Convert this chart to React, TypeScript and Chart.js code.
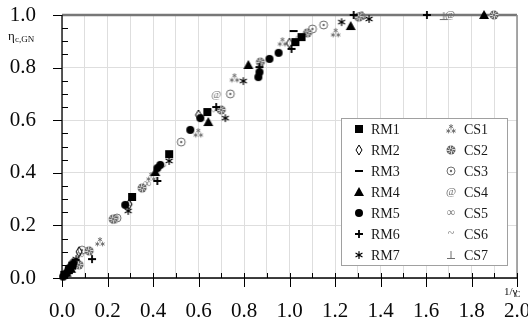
import React, { useEffect, useRef } from 'react';
import { Chart, registerables } from 'chart.js';

Chart.register(...registerables);

// ---------- data ----------
const X_TICK_LABELS = ['0.0', '0.2', '0.4', '0.6', '0.8', '1.0', '1.2', '1.4', '1.6', '1.8', '2.0'];
const Y_TICK_LABELS = ['0.0', '0.2', '0.4', '0.6', '0.8', '1.0'];
const SERIES_NAMES = ['RM1', 'RM2', 'RM3', 'RM4', 'RM5', 'RM6', 'RM7', 'CS1', 'CS2', 'CS3', 'CS4', 'CS5', 'CS6', 'CS7'];

const RM1 = [[0.01, 0.012], [0.03, 0.03], [0.045, 0.047], [0.308, 0.308], [0.471, 0.471], [0.639, 0.631], [1.026, 0.897], [1.053, 0.916]];
const RM2 = [[0.075, 0.1], [0.295, 0.28], [0.6, 0.62], [1.0, 0.893]];
const RM3 = [[0.06, 0.07], [1.018, 0.939]];
const RM4 = [[0.02, 0.02], [0.04, 0.035], [0.41, 0.403], [0.643, 0.593], [0.819, 0.81], [1.269, 0.958], [1.855, 1.0]];
const RM5 = [[0.005, 0.005], [0.015, 0.015], [0.025, 0.025], [0.035, 0.04], [0.05, 0.055], [0.278, 0.278], [0.419, 0.418], [0.432, 0.43], [0.564, 0.563], [0.608, 0.608], [0.863, 0.764], [0.868, 0.783], [0.912, 0.833], [0.952, 0.856]];
const RM6 = [[0.132, 0.072], [0.419, 0.369], [0.678, 0.65], [0.868, 0.802], [1.009, 0.871], [1.282, 1.0], [1.604, 1.0]];
const RM7 = [[0.062, 0.072], [0.291, 0.255], [0.471, 0.445], [0.718, 0.608], [0.797, 0.749], [1.229, 0.973], [1.35, 0.985]];
const CS1 = [[0.167, 0.137], [0.392, 0.384], [0.599, 0.551], [0.758, 0.76], [0.969, 0.897], [1.203, 0.932]];
const CS2 = [[0.075, 0.05], [0.119, 0.103], [0.225, 0.224], [0.352, 0.342], [0.7, 0.639], [0.872, 0.821], [1.079, 0.932], [1.304, 0.992], [1.899, 1.0]];
const CS3 = [[0.088, 0.106], [0.242, 0.228], [0.524, 0.517], [0.74, 0.7], [1.101, 0.947], [1.15, 0.962], [1.313, 0.996]];
const CS4 = [[0.05, 0.06], [0.23, 0.225], [0.678, 0.696], [1.705, 1.0]];
const CS5 = [[0.079, 0.087], [0.29, 0.281], [0.374, 0.357], [1.317, 0.989]];
const CS6 = [[0.05, 0.062], [0.445, 0.422], [0.66, 0.63], [1.04, 0.91]];
const CS7 = [[0.012, 0.015], [1.32, 1.0], [1.678, 0.996]];

const SERIES_DATA = [RM1, RM2, RM3, RM4, RM5, RM6, RM7, CS1, CS2, CS3, CS4, CS5, CS6, CS7];

// ---------- styles ----------
const BLACK = '#000000';
const GRAY = '#6e6e6e';
const SERIF = '"Liberation Serif", "DejaVu Serif", serif';

function glyph(draw: (g: CanvasRenderingContext2D) => void) {
  const s = 16;
  const c = document.createElement('canvas');
  c.width = s;
  c.height = s;
  const g = c.getContext('2d') as CanvasRenderingContext2D;
  g.translate(s / 2, s / 2);
  draw(g);
  return c;
}

function asterisk(g: CanvasRenderingContext2D, cx: number, cy: number, r: number, lw: number, color: string) {
  g.strokeStyle = color;
  g.lineWidth = lw;
  g.lineCap = 'round';
  g.beginPath();
  for (let k = 0; k < 6; k++) {
    const a = -Math.PI / 2 + (k * Math.PI) / 3;
    g.moveTo(cx, cy);
    g.lineTo(cx + r * Math.cos(a), cy + r * Math.sin(a));
  }
  g.stroke();
}

function textGlyph(ch: string, size: number, color: string, dy = 0) {
  return glyph((g) => {
    g.fillStyle = color;
    g.font = `${size}px ${SERIF}`;
    g.textAlign = 'center';
    g.textBaseline = 'middle';
    g.fillText(ch, 0, dy);
  });
}

function makeGlyphs() {
  return [
    glyph((g) => { g.fillStyle = BLACK; g.fillRect(-4, -4, 8, 8); }),
    glyph((g) => {
      g.strokeStyle = BLACK; g.lineWidth = 1;
      g.beginPath(); g.moveTo(0, -5); g.lineTo(3, 0); g.lineTo(0, 5); g.lineTo(-3, 0); g.closePath(); g.stroke();
    }),
    glyph((g) => { g.fillStyle = BLACK; g.fillRect(-4, -1, 8, 2); }),
    glyph((g) => {
      g.fillStyle = BLACK;
      g.beginPath(); g.moveTo(0, -5); g.lineTo(5, 4); g.lineTo(-5, 4); g.closePath(); g.fill();
    }),
    glyph((g) => { g.fillStyle = BLACK; g.beginPath(); g.arc(0, 0, 4, 0, Math.PI * 2); g.fill(); }),
    glyph((g) => {
      g.strokeStyle = BLACK; g.lineWidth = 1.8;
      g.beginPath(); g.moveTo(-4, 0); g.lineTo(4, 0); g.moveTo(0, -4); g.lineTo(0, 4); g.stroke();
    }),
    glyph((g) => asterisk(g, 0, 0, 3.5, 1.2, BLACK)),
    glyph((g) => {
      asterisk(g, 0, -2.5, 2, 0.9, GRAY);
      asterisk(g, -2.6, 2, 2, 0.9, GRAY);
      asterisk(g, 2.6, 2, 2, 0.9, GRAY);
    }),
    glyph((g) => {
      g.fillStyle = '#5e5e5e';
      g.beginPath(); g.arc(0, 0, 4.5, 0, Math.PI * 2); g.fill();
      g.strokeStyle = '#ffffff'; g.lineWidth = 0.8;
      g.beginPath();
      for (let k = 0; k < 8; k++) {
        const a = (k * Math.PI) / 4 + 0.3;
        g.moveTo(1.2 * Math.cos(a), 1.2 * Math.sin(a));
        g.lineTo(4.5 * Math.cos(a + 0.4), 4.5 * Math.sin(a + 0.4));
      }
      g.stroke();
    }),
    glyph((g) => {
      g.strokeStyle = GRAY; g.lineWidth = 1;
      g.beginPath(); g.arc(0, 0, 4, 0, Math.PI * 2); g.stroke();
      g.fillStyle = GRAY; g.beginPath(); g.arc(0, 0, 1.2, 0, Math.PI * 2); g.fill();
    }),
    textGlyph('@', 11, GRAY, 0),
    textGlyph('\u221E', 12, GRAY, 0),
    textGlyph('~', 12, GRAY, 0),
    glyph((g) => {
      g.strokeStyle = GRAY; g.lineWidth = 1;
      g.beginPath(); g.moveTo(0, -4); g.lineTo(0, 3.5); g.moveTo(-4, 3.5); g.lineTo(4, 3.5); g.stroke();
    }),
  ];
}

function line(ctx: CanvasRenderingContext2D, x1: number, y1: number, x2: number, y2: number) {
  ctx.beginPath();
  ctx.moveTo(x1, y1);
  ctx.lineTo(x2, y2);
  ctx.stroke();
}

export default function App() {
  const ref = useRef<HTMLCanvasElement | null>(null);

  useEffect(() => {
    const canvas = ref.current;
    if (!canvas) return;
    const glyphs = makeGlyphs();

    const datasets = SERIES_NAMES.map((name, i) => ({
      label: name,
      data: SERIES_DATA[i].map(([x, y]) => ({ x, y })),
      pointStyle: glyphs[i],
      pointRadius: 5,
      showLine: false,
      clip: false,
    }));

    const decor = {
      id: 'decor',
      beforeDatasetsDraw(chart: any) {
        const { ctx, chartArea: a, scales } = chart;
        const xs = scales.x;
        const ys = scales.y;
        ctx.save();
        ctx.strokeStyle = '#777777';
        ctx.lineWidth = 2.5;
        line(ctx, a.left, a.top, a.right, a.top);
        ctx.strokeStyle = '#8c8c8c';
        ctx.lineWidth = 1.5;
        line(ctx, a.right, a.top, a.right, a.bottom);
        ctx.strokeStyle = '#000000';
        ctx.lineWidth = 1.3;
        line(ctx, a.left, a.top, a.left, a.bottom);
        line(ctx, a.left, a.bottom, a.right, a.bottom);
        ctx.lineWidth = 1;
        for (let i = 0; i <= 20; i++) {
          const px = Math.round(xs.getPixelForValue(i / 10)) + 0.5;
          if (i % 2 === 0) line(ctx, px, a.bottom - 5, px, a.bottom + 9);
          else line(ctx, px, a.bottom - 5, px, a.bottom);
        }
        for (let i = 0; i <= 20; i++) {
          const py = Math.round(ys.getPixelForValue(i / 20)) + 0.5;
          if (i % 4 === 0) line(ctx, a.left - 9, py, a.left, py);
          else line(ctx, a.left, py, a.left + 6, py);
        }
        ctx.restore();
      },
      afterDraw(chart: any) {
        const { ctx } = chart;
        ctx.save();
        ctx.fillStyle = '#111111';
        ctx.textBaseline = 'alphabetic';
        ctx.textAlign = 'left';
        ctx.font = `13px ${SERIF}`;
        ctx.fillText('\u03B7', 8, 40);
        ctx.font = `9px ${SERIF}`;
        ctx.fillText('c,GN', 15, 42);
        ctx.font = `11px ${SERIF}`;
        ctx.fillText('1/\u03B3', 504, 295);
        ctx.font = `8px ${SERIF}`;
        ctx.fillText('C', 515, 297);

        const bx = 341, by = 118, bw = 166, bh = 147;
        ctx.fillStyle = '#ffffff';
        ctx.fillRect(bx, by, bw, bh);
        ctx.strokeStyle = '#a0a0a0';
        ctx.lineWidth = 1;
        ctx.strokeRect(bx + 0.5, by + 0.5, bw, bh);

        ctx.font = `14px ${SERIF}`;
        ctx.textBaseline = 'middle';
        ctx.fillStyle = '#1a1a1a';
        for (let i = 0; i < SERIES_NAMES.length; i++) {
          const col = i < 7 ? 0 : 1;
          const row = i % 7;
          const cy = 129 + row * 21;
          const mx = col === 0 ? 359 : 451;
          const tx = col === 0 ? 371 : 464;
          const gl = glyphs[i];
          ctx.drawImage(gl, mx - gl.width / 2, cy - gl.height / 2);
          ctx.fillText(SERIES_NAMES[i], tx, cy + 1);
        }
        ctx.restore();
      },
    };

    const chart = new Chart(canvas, {
      type: 'scatter',
      data: { datasets },
      options: {
        responsive: false,
        animation: false,
        layout: { padding: { top: 15, right: 11, left: 0, bottom: 0 } },
        plugins: {
          legend: { display: false },
          tooltip: { enabled: false },
        },
        scales: {
          x: {
            type: 'linear',
            min: 0,
            max: 2,
            afterFit: (s: any) => {
              s.height = 49;
              s.paddingRight = 0;
              s.paddingLeft = 0;
              s.paddingTop = 0;
              s.paddingBottom = 0;
            },
            ticks: {
              stepSize: 0.1,
              autoSkip: false,
              maxRotation: 0,
              minRotation: 0,
              padding: 21,
              color: '#0a0a0a',
              font: { family: SERIF, size: 21 },
              callback: (v: any) => {
                const i = Math.round(Number(v) * 10);
                return i % 2 === 0 ? X_TICK_LABELS[i / 2] : '';
              },
            },
            grid: { color: '#dedede', lineWidth: 1, drawTicks: false },
            border: { display: false },
          },
          y: {
            type: 'linear',
            min: 0,
            max: 1,
            afterFit: (s: any) => {
              s.width = 62;
              s.paddingTop = 0;
              s.paddingBottom = 0;
              s.paddingLeft = 0;
              s.paddingRight = 0;
            },
            ticks: {
              stepSize: 0.2,
              padding: 26,
              color: '#0a0a0a',
              font: { family: SERIF, size: 21 },
              callback: (v: any) => Y_TICK_LABELS[Math.round(Number(v) * 5)] ?? '',
            },
            grid: { color: '#dedede', lineWidth: 1, drawTicks: false },
            border: { display: false },
          },
        },
      },
      plugins: [decor],
    });

    return () => chart.destroy();
  }, []);

  return (
    <div style={{ position: 'fixed', left: 0, top: 0, width: 528, height: 327, background: '#ffffff' }}>
      <canvas ref={ref} width={528} height={327} style={{ display: 'block' }} />
    </div>
  );
}
